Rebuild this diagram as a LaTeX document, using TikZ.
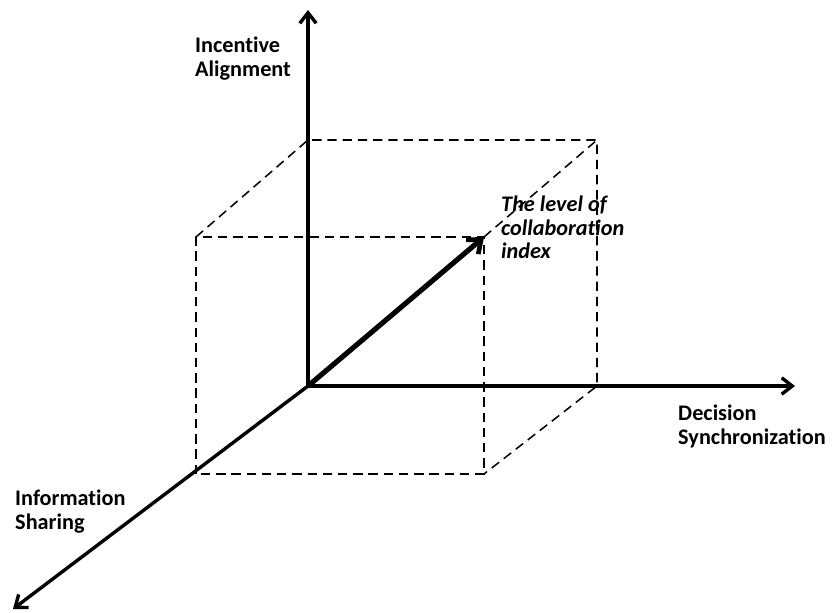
\documentclass[tikz,border=0pt]{standalone}
\usepackage{fontspec}
\setmainfont{Carlito}[Ligatures=NoCommon]
\usetikzlibrary{arrows.meta}
\begin{document}
\begin{tikzpicture}[x=0.03cm,y=-0.03cm,
  axis/.style={line width=2.9pt,-{Straight Barb[length=9pt,width=14pt,line width=2.9pt]}},
  guide/.style={line width=1.3pt,dash pattern=on 8pt off 5pt},
  vec/.style={line width=4.4pt,-{Straight Barb[length=10pt,width=16pt,line width=4pt]}},
  lbl/.style={font=\bfseries\fontsize{19}{20}\selectfont,align=left,inner sep=0pt,anchor=north west},
  lbli/.style={lbl,font=\bfseries\itshape\fontsize{19}{20}\selectfont}]
\useasboundingbox (0,0) rectangle (835,613);
% axes
\coordinate (O) at (308,386);
\coordinate (Ztip) at (308,10);
\coordinate (Xtip) at (795,386);
\coordinate (Ytip) at (13,609);
% cube corners: front face and back face
\coordinate (FBL) at (196,474);
\coordinate (FBR) at (484,474);
\coordinate (FTL) at (196,237);
\coordinate (FTR) at (484,237);
\coordinate (BTL) at (308,140);
\coordinate (BTR) at (597,140);
\coordinate (BBR) at (597,386);
% dashed cube edges
\draw[guide] (FBL) -- (FTL) -- (FTR) -- (FBR) -- cycle;
\draw[guide] (FTL) -- (BTL) -- (BTR) -- (BBR) -- (FBR);
\draw[guide] (FTR) -- (BTR);
% axes
\draw[axis] (O) -- (Ztip);
\draw[axis] (O) -- (Xtip);
\draw[axis] (O) -- (Ytip);
% collaboration vector
\draw[vec] (O) -- (FTR);
% labels
\node[lbl] (za) at (195,37) {Incentive\\Alignment};
\node[lbl] (xa) at (678,405) {Decision\\Synchronization};
\node[lbl] (ya) at (15,490) {Information\\Sharing};
\node[lbli] (ci) at (501,196) {The level of\\collaboration\\index};
\end{tikzpicture}
\end{document}
